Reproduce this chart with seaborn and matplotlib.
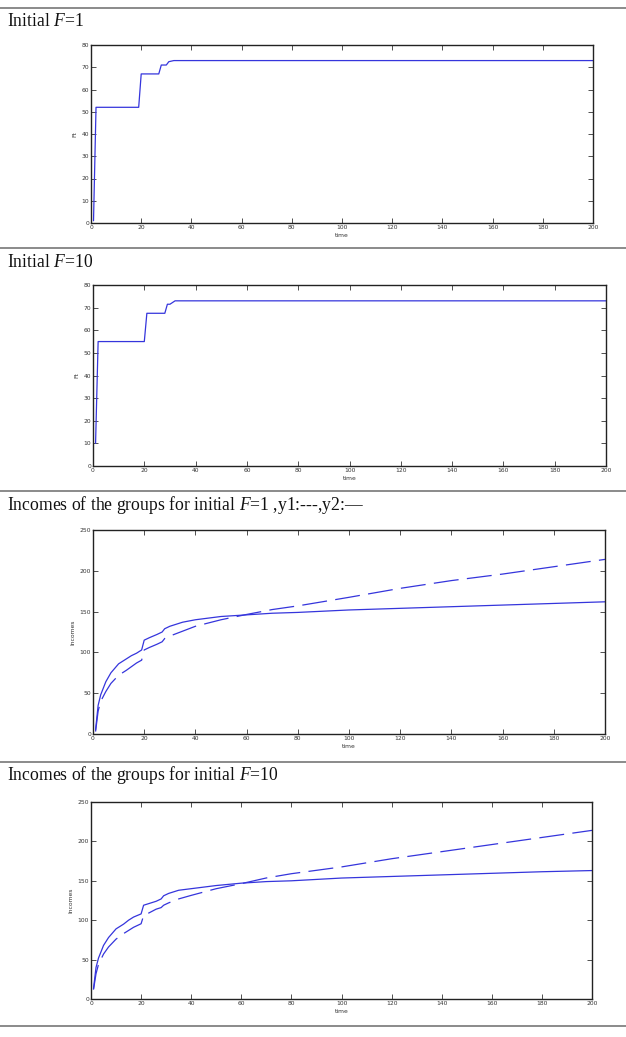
import numpy as np
import pandas as pd
import matplotlib
matplotlib.use("Agg")
import matplotlib.pyplot as plt
from matplotlib.lines import Line2D
import seaborn as sns

# Ft for initial F=1 and F=10
t_f1 = [1, 2, 19, 20, 27, 28, 30, 31, 33, 200]
ft_f1 = [1, 52, 52, 67, 67, 71, 71, 72.5, 73, 73]
t_f10 = [1, 2, 20, 21, 28, 29, 30, 32, 200]
ft_f10 = [10, 55, 55, 67.5, 67.5, 71.5, 71.5, 73, 73]

# incomes of the groups, initial F=1
t_inc1 = [1, 2, 3, 5, 7, 10, 13, 15, 17, 19, 20, 22, 25, 27, 28, 30, 35, 40, 50, 60, 70, 80, 100, 120, 140, 160, 180, 200]
y1_inc1 = [3, 28, 40, 52, 62, 72, 78, 82.5, 87, 90.5, 103, 106, 110, 113, 117, 120, 126, 132, 140, 146.5, 152.5, 157, 167.5, 178.5, 188, 196, 205, 214]
y2_inc1 = [5, 35, 48, 64, 75, 86, 92, 96, 99, 103, 115, 118, 122, 125, 129, 132, 137, 140, 144, 146, 148, 149, 152, 154, 156, 158, 160, 162]

# incomes of the groups, initial F=10
t_inc10 = [1, 2, 3, 5, 7, 10, 13, 15, 17, 20, 21, 23, 26, 28, 29, 31, 35, 40, 50, 60, 70, 80, 100, 120, 140, 160, 180, 200]
y1_inc10 = [12, 32, 44, 57, 66, 76, 83, 87, 91, 95.5, 106, 109, 114, 116, 119, 122, 127, 131.5, 140, 146.4, 153.6, 159, 167.6, 178, 187, 196, 205, 214]
y2_inc10 = [13, 40, 52, 68, 78, 89, 95, 100, 104, 108, 119, 121, 124, 127, 131, 134, 138, 140, 144, 147, 149, 150, 153.5, 155.5, 157.5, 159.5, 161.5, 163]

section_titles = [r"Initial $F$=1", r"Initial $F$=10",
                  r"Incomes of the groups for initial $F$=1 ,y1:---,y2:—",
                  r"Incomes of the groups for initial $F$=10"]

sns.set_theme(style="white")
plt.rcParams["font.family"] = ["DejaVu Sans"]
plt.rcParams["mathtext.fontset"] = "custom"
plt.rcParams["mathtext.rm"] = "Liberation Serif"
plt.rcParams["mathtext.it"] = "Liberation Serif:italic"
plt.rcParams["lines.scale_dashes"] = False

W, H = 626, 1037
fig = plt.figure(figsize=(W / 100, H / 100), dpi=100)
line_col = "#3535dc"
dash = (0, (18, 6))


def px_axes(left, right, top, bottom):
    return fig.add_axes([left / W, 1 - bottom / H, (right - left) / W, (bottom - top) / H])


def style_ax(ax, ymax, ystep, ylabel):
    ax.set_xlim(0, 200)
    ax.set_ylim(0, ymax)
    ax.set_xticks(np.arange(0, 201, 20))
    ax.set_yticks(np.arange(0, ymax + 1, ystep))
    ax.tick_params(direction="in", length=3.5, width=0.6, labelsize=4.3, pad=1.5,
                   top=True, right=True, bottom=True, left=True, colors="#333333")
    for s in ax.spines.values():
        s.set_color("#222222")
        s.set_linewidth(1.0)
    ax.set_xlabel("time", fontsize=4.3, labelpad=2, color="#333333")
    ax.set_ylabel(ylabel, fontsize=4.3, labelpad=3, color="#333333")


# panel 1
ax1 = px_axes(91, 593, 45, 223)
sns.lineplot(data=pd.DataFrame({"time": t_f1, "Ft": ft_f1}), x="time", y="Ft",
             ax=ax1, color=line_col, lw=0.9)
style_ax(ax1, 80, 10, "Ft")

# panel 2
ax2 = px_axes(93, 606, 285, 466)
sns.lineplot(data=pd.DataFrame({"time": t_f10, "Ft": ft_f10}), x="time", y="Ft",
             ax=ax2, color=line_col, lw=0.9)
style_ax(ax2, 80, 10, "Ft")

# panel 3
ax3 = px_axes(93, 605, 530, 734)
d3 = pd.DataFrame({"time": t_inc1, "y1": y1_inc1, "y2": y2_inc1})
sns.lineplot(data=d3, x="time", y="y2", ax=ax3, color=line_col, lw=0.9)
sns.lineplot(data=d3, x="time", y="y1", ax=ax3, color=line_col, lw=0.9, linestyle=dash)
style_ax(ax3, 250, 50, "Incomes")

# panel 4
ax4 = px_axes(91, 592, 802, 999)
d4 = pd.DataFrame({"time": t_inc10, "y1": y1_inc10, "y2": y2_inc10})
sns.lineplot(data=d4, x="time", y="y2", ax=ax4, color=line_col, lw=0.9)
sns.lineplot(data=d4, x="time", y="y1", ax=ax4, color=line_col, lw=0.9, linestyle=dash)
style_ax(ax4, 250, 50, "Incomes")

# page rules and section headings
for yy in [8, 248, 491, 762, 1026]:
    fig.add_artist(Line2D([0, 1], [1 - yy / H] * 2, transform=fig.transFigure,
                          color="#8a8a8a", lw=1.4))
for title, base in zip(section_titles, [26, 267, 510, 780]):
    fig.text(7 / W, 1 - base / H, title, fontsize=12.7, va="baseline", ha="left",
             family="Liberation Serif", color="#111111")

fig.savefig("out.png", dpi=100)
